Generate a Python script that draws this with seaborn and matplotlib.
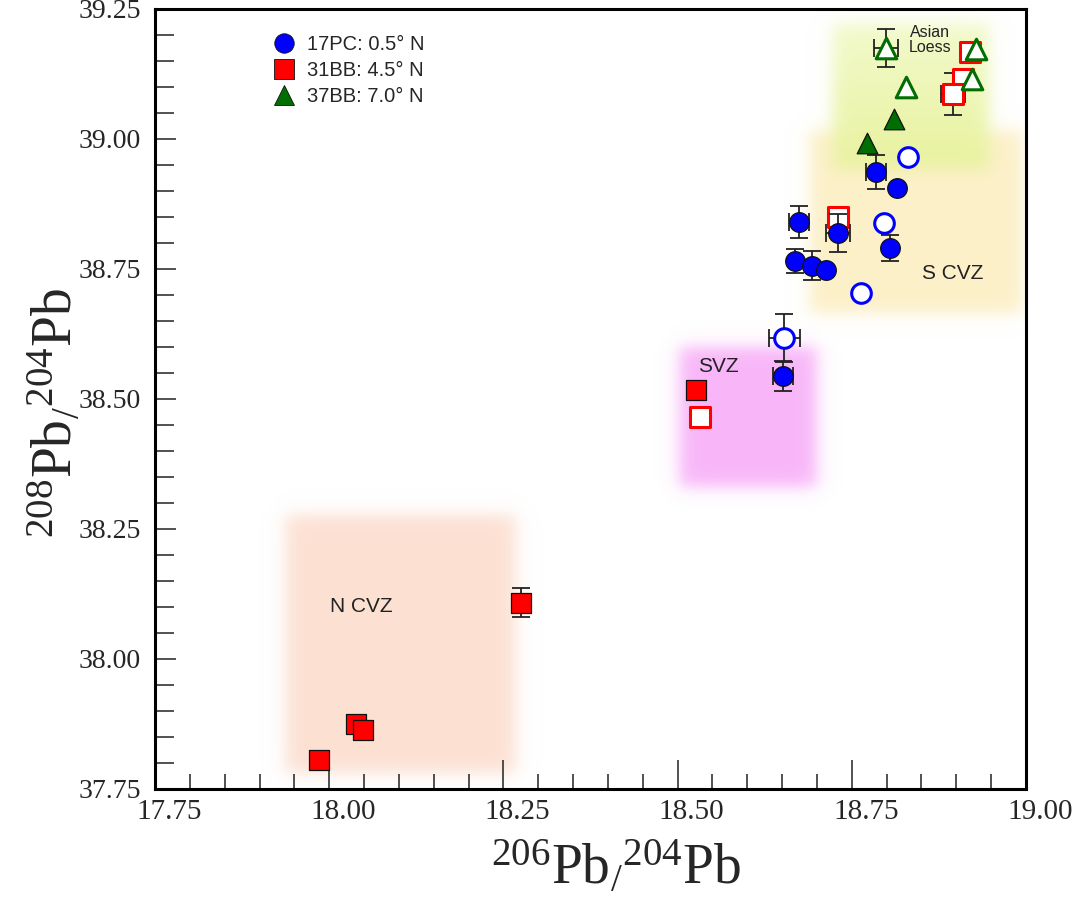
import numpy as np
import pandas as pd
import matplotlib
matplotlib.use("Agg")
import matplotlib.pyplot as plt
import matplotlib.transforms as mtransforms
from matplotlib.lines import Line2D
from matplotlib.ticker import MultipleLocator, FormatStrFormatter
import seaborn as sns

# ---- measured isotope ratios (206Pb/204Pb, 208Pb/204Pb) ----
# 17PC: 0.5 N
pc17_x = [18.674, 18.730, 18.785, 18.815, 18.805, 18.668, 18.693, 18.713, 18.651,
          18.831, 18.796, 18.763, 18.653]
pc17_y = [38.840, 38.819, 38.937, 38.906, 38.790, 38.765, 38.756, 38.748, 38.544,
          38.965, 38.838, 38.704, 38.617]
pc17_xerr = [0.014, 0.017, 0.014, 0, 0, 0, 0, 0, 0.014, 0, 0, 0, 0.022]
pc17_yerr = [0.031, 0.037, 0.033, 0, 0.025, 0.023, 0.028, 0, 0.029, 0, 0, 0, 0.046]
pc17_open = [False] * 9 + [True] * 4

# 31BB: 4.5 N
bb31_x = [18.526, 18.275, 18.038, 18.049, 17.985,
          18.532, 18.730, 18.920, 18.910, 18.895]
bb31_y = [38.517, 38.108, 37.875, 37.863, 37.806,
          38.465, 38.850, 39.167, 39.115, 39.087]
bb31_xerr = [0, 0, 0, 0, 0, 0, 0, 0, 0, 0.017]
bb31_yerr = [0, 0.028, 0, 0, 0, 0, 0, 0, 0, 0.040]
bb31_open = [False] * 5 + [True] * 5

# 37BB: 7.0 N
bb37_x = [18.811, 18.772, 18.799, 18.828, 18.928, 18.922]
bb37_y = [39.038, 38.992, 39.175, 39.100, 39.173, 39.115]
bb37_xerr = [0, 0, 0.017, 0, 0, 0]
bb37_yerr = [0, 0, 0.037, 0, 0, 0]
bb37_open = [False, False, True, True, True, True]

core_labels = ["17PC: 0.5° N", "31BB: 4.5° N", "37BB: 7.0° N"]

# ---- source-field boxes: (x0, x1, y0, y1) ----
field_names = ["N CVZ", "SVZ", "S CVZ", "Asian\nLoess"]
field_boxes = [
    (17.937, 18.267, 37.780, 38.277),
    (18.503, 18.700, 38.331, 38.600),
    (18.690, 18.996, 38.665, 39.017),
    (18.723, 18.948, 38.944, 39.225),
]
field_label_xy = [(18.046, 38.100), (18.558, 38.562), (18.895, 38.742), (18.862, 39.190)]

# ---- styling ----
sns.set_style("white")
plt.rcParams["font.family"] = ["Liberation Sans", "DejaVu Sans"]
plt.rcParams["mathtext.fontset"] = "custom"
plt.rcParams["mathtext.rm"] = "Liberation Serif"
plt.rcParams["mathtext.it"] = "Liberation Serif:italic"

field_colors = ["#fce1d3", "#f8b6f8", "#fcf0c8", None]
loess_top, loess_bottom = np.array([0.95, 0.98, 0.80]), np.array([0.91, 0.95, 0.62])

XMIN, XMAX, YMIN, YMAX = 17.75, 19.00, 37.75, 39.25

fig = plt.figure(figsize=(10.73, 8.98), dpi=100)
ax = fig.add_axes([155 / 1073, 1 - 789 / 898, 871 / 1073, 780 / 898])

# soft-edged shaded fields rendered as an image layer
nx, ny = 900, 800
gx = np.linspace(XMIN, XMAX, nx)
gy = np.linspace(YMIN, YMAX, ny)
GX, GY = np.meshgrid(gx, gy)
img = np.ones((ny, nx, 3))
soft_x, soft_y = 0.007, 0.009


def sig(v):
    return 1.0 / (1.0 + np.exp(-v))


for i, (x0, x1, y0, y1) in enumerate(field_boxes):
    a = (sig((GX - x0) / soft_x) * sig((x1 - GX) / soft_x) *
         sig((GY - y0) / soft_y) * sig((y1 - GY) / soft_y))
    a[a < 4e-3] = 0.0
    if field_colors[i] is None:
        t = np.clip((y1 - GY) / (y1 - y0), 0, 1)[..., None]
        col = loess_top + (loess_bottom - loess_top) * t
    else:
        col = np.array(matplotlib.colors.to_rgb(field_colors[i]))
    img = img * (1 - a[..., None]) + col * a[..., None]

ax.imshow(img, extent=(XMIN, XMAX, YMIN, YMAX), origin="lower", aspect="auto",
          interpolation="bilinear", zorder=0)

for name, (tx, ty) in zip(field_names, field_label_xy):
    small = name.startswith("Asian")
    ax.text(tx, ty, name, ha="center", va="center", color="#222222",
            fontsize=11.5 if small else 15, linespacing=1.05, zorder=1)

# ---- data points ----
series = [
    dict(x=pc17_x, y=pc17_y, xerr=pc17_xerr, yerr=pc17_yerr, op=pc17_open,
         color="#0000ff", marker="o", s=200, z=3),
    dict(x=bb31_x, y=bb31_y, xerr=bb31_xerr, yerr=bb31_yerr, op=bb31_open,
         color="#ff0000", marker="s", s=190, z=2),
    dict(x=bb37_x, y=bb37_y, xerr=bb37_xerr, yerr=bb37_yerr, op=bb37_open,
         color="#006e00", marker="^", s=220, z=4),
]

for k, sr in enumerate(series):
    df = pd.DataFrame({"x": sr["x"], "y": sr["y"], "xerr": sr["xerr"],
                       "yerr": sr["yerr"], "open": sr["op"]})
    ye = df[df["yerr"] > 0]
    xe = df[df["xerr"] > 0]
    ebkw = dict(fmt="none", ecolor="#222222", elinewidth=1.3, capsize=6.5,
                capthick=1.3, zorder=sr["z"])
    if len(ye):
        ax.errorbar(ye["x"], ye["y"], yerr=ye["yerr"], **ebkw)
    if len(xe):
        ax.errorbar(xe["x"], xe["y"], xerr=xe["xerr"], **ebkw)
    filled = df[~df["open"]]
    hollow = df[df["open"]]
    sns.scatterplot(data=filled, x="x", y="y", marker=sr["marker"], s=sr["s"],
                    color=sr["color"], edgecolor="#111111", linewidth=0.9,
                    ax=ax, zorder=sr["z"] + 0.5, legend=False)
    sns.scatterplot(data=hollow, x="x", y="y", marker=sr["marker"], s=sr["s"],
                    color="white", edgecolor=sr["color"], linewidth=2.2,
                    ax=ax, zorder=sr["z"] + 0.5, legend=False)

# ---- legend ----
handles = [Line2D([], [], ls="none", marker=sr["marker"], markersize=14,
                  markerfacecolor=sr["color"], markeredgecolor="#111111",
                  markeredgewidth=0.6) for sr in series]
ax.legend(handles, core_labels, loc="upper left", bbox_to_anchor=(0.118, 0.985),
          frameon=False, fontsize=14.5, handletextpad=0.55, labelspacing=0.35,
          borderaxespad=0.3, handlelength=1.2)

# ---- axes ----
ax.set_xlim(XMIN, XMAX)
ax.set_ylim(YMIN, YMAX)
ax.xaxis.set_major_locator(MultipleLocator(0.25))
ax.xaxis.set_minor_locator(MultipleLocator(0.05))
ax.yaxis.set_major_locator(MultipleLocator(0.25))
ax.yaxis.set_minor_locator(MultipleLocator(0.05))
ax.xaxis.set_major_formatter(FormatStrFormatter("%.2f"))
ax.yaxis.set_major_formatter(FormatStrFormatter("%.2f"))

ax.tick_params(which="both", direction="in", bottom=True, left=True,
               top=False, right=False, color="#333333", width=1.2)
ax.tick_params(axis="x", which="major", length=21, pad=7)
ax.tick_params(axis="x", which="minor", length=11)
ax.tick_params(axis="y", which="major", length=15, pad=10)
ax.tick_params(axis="y", which="minor", length=14)

for lab in ax.get_xticklabels():
    lab.set_fontfamily("Liberation Serif")
    lab.set_fontsize(21)
    lab.set_transform(lab.get_transform() +
                      mtransforms.ScaledTranslation(0.14, 0, fig.dpi_scale_trans))
for lab in ax.get_yticklabels():
    lab.set_fontfamily("Liberation Serif")
    lab.set_fontsize(20)

for sp in ax.spines.values():
    sp.set_visible(True)
    sp.set_color("black")
    sp.set_linewidth(2.2)

ax.set_xlabel(r"$^{206}\mathrm{Pb}_{/}{}^{204}\mathrm{Pb}$", fontsize=40)
ax.set_ylabel(r"$^{208}\mathrm{Pb}_{/}{}^{204}\mathrm{Pb}$", fontsize=40)
ax.xaxis.set_label_coords(0.529, -0.064)
ax.yaxis.set_label_coords(-0.082, 0.482)

fig.savefig("out.png", dpi=100)
